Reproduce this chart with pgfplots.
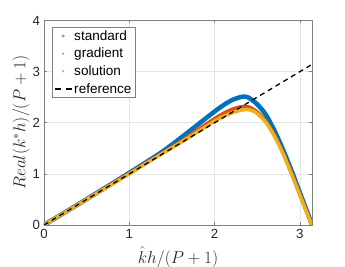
\documentclass[border=0pt]{standalone}
\usepackage{fontspec}
\setmainfont{Liberation Sans}
\usepackage{pgfplots}
\pgfplotsset{compat=1.18}
\pgfplotsset{shortline/.style={legend image code/.code={\draw[##1] (0bp,0bp) -- (17bp,0bp);}}}
\definecolor{mblue}{rgb}{0,0.447,0.741}
\definecolor{morange}{rgb}{0.85,0.325,0.098}
\definecolor{myellow}{rgb}{0.929,0.694,0.125}
\definecolor{mtext}{rgb}{0.15,0.15,0.15}
\pgfplotstableread{
x y
0 0
0.5 0.505
1.0 1.02
1.2 1.23
1.4 1.45
1.6 1.70
1.8 1.96
2.0 2.22
2.1 2.34
2.2 2.44
2.3 2.50
2.35 2.51
2.4 2.49
2.5 2.36
2.6 2.16
2.7 1.85
2.8 1.48
2.9 1.07
3.0 0.63
3.1 0.19
3.1416 0
}\standard
\pgfplotstableread{
x y
0 0
0.5 0.502
1.0 1.01
1.4 1.42
1.6 1.63
1.8 1.86
2.0 2.08
2.1 2.18
2.2 2.26
2.3 2.31
2.35 2.32
2.4 2.31
2.5 2.21
2.6 2.03
2.7 1.76
2.8 1.42
2.9 1.02
3.0 0.60
3.1 0.17
3.1416 0
}\gradient
\pgfplotstableread{
x y
0 0
0.5 0.50
1.0 1.0
1.4 1.41
1.6 1.61
1.8 1.82
2.0 2.03
2.1 2.12
2.2 2.19
2.3 2.24
2.38 2.26
2.45 2.23
2.5 2.18
2.6 2.01
2.7 1.74
2.8 1.40
2.9 1.00
3.0 0.58
3.1 0.16
3.1416 0
}\solution
\pgfplotstableread{
x y
0 0
3.1416 3.1416
}\reference
\begin{document}
\begin{tikzpicture}
\begin{axis}[
  scale only axis,
  width=268bp, height=204.5bp,
  xmin=0, xmax=3.1416, ymin=0, ymax=4,
  xtick={0,1,2,3}, ytick={0,1,2,3,4},
  tick align=inside, major tick length=3bp,
  grid=major,
  grid style={black!10, line width=0.5bp},
  axis line style={black!50, line width=0.5bp},
  tick style={black!50, line width=0.5bp},
  /pgf/number format/assume math mode=true,
  ticklabel style={font=\fontsize{13.3}{15}\selectfont, text=mtext},
  xticklabel style={yshift=-1bp},
  yticklabel style={xshift=-0.5bp},
  xlabel={$\hat{k}h/(P+1)$},
  ylabel={$Real(k^{*}h)/(P+1)$},
  label style={font=\fontsize{16.8}{18}\selectfont, text=mtext},
  xlabel style={yshift=-1bp},
  ylabel style={yshift=-4bp},
  legend style={at={(0,1)}, anchor=north west, xshift=7.7bp, yshift=-6.5bp,
    draw=black!50, line width=0.5bp, fill=white,
    font=\fontsize{13.6}{15}\selectfont, text=black,
    inner xsep=2bp, inner ysep=1.2bp, row sep=2.3bp},
  legend cell align=left,
]
\addplot[mblue, line width=4.5bp, smooth, forget plot] table {\standard};
\addplot[morange, line width=3.5bp, smooth, forget plot] table {\gradient};
\addplot[myellow, line width=3.5bp, smooth, forget plot] table {\solution};
\addplot[black, line width=1.3bp, dash pattern=on 5bp off 4bp, forget plot] table {\reference};
\addlegendimage{only marks, mark=o, mark size=1.2bp, mblue!80, mark options={line width=0.5bp}}
\addlegendentry{standard}
\addlegendimage{only marks, mark=x, mark size=1.1bp, morange!80, mark options={line width=0.5bp}}
\addlegendentry{gradient}
\addlegendimage{only marks, mark=*, mark size=0.9bp, myellow}
\addlegendentry{solution}
\addlegendimage{black, line width=1.3bp, dash pattern=on 6bp off 5bp, shortline}
\addlegendentry{reference}
\end{axis}
\pgfresetboundingbox
\path[use as bounding box] ([shift={(-44bp,-42bp)}]current axis.south west) rectangle ([shift={(33bp,20.5bp)}]current axis.north east);
\end{tikzpicture}
\end{document}
